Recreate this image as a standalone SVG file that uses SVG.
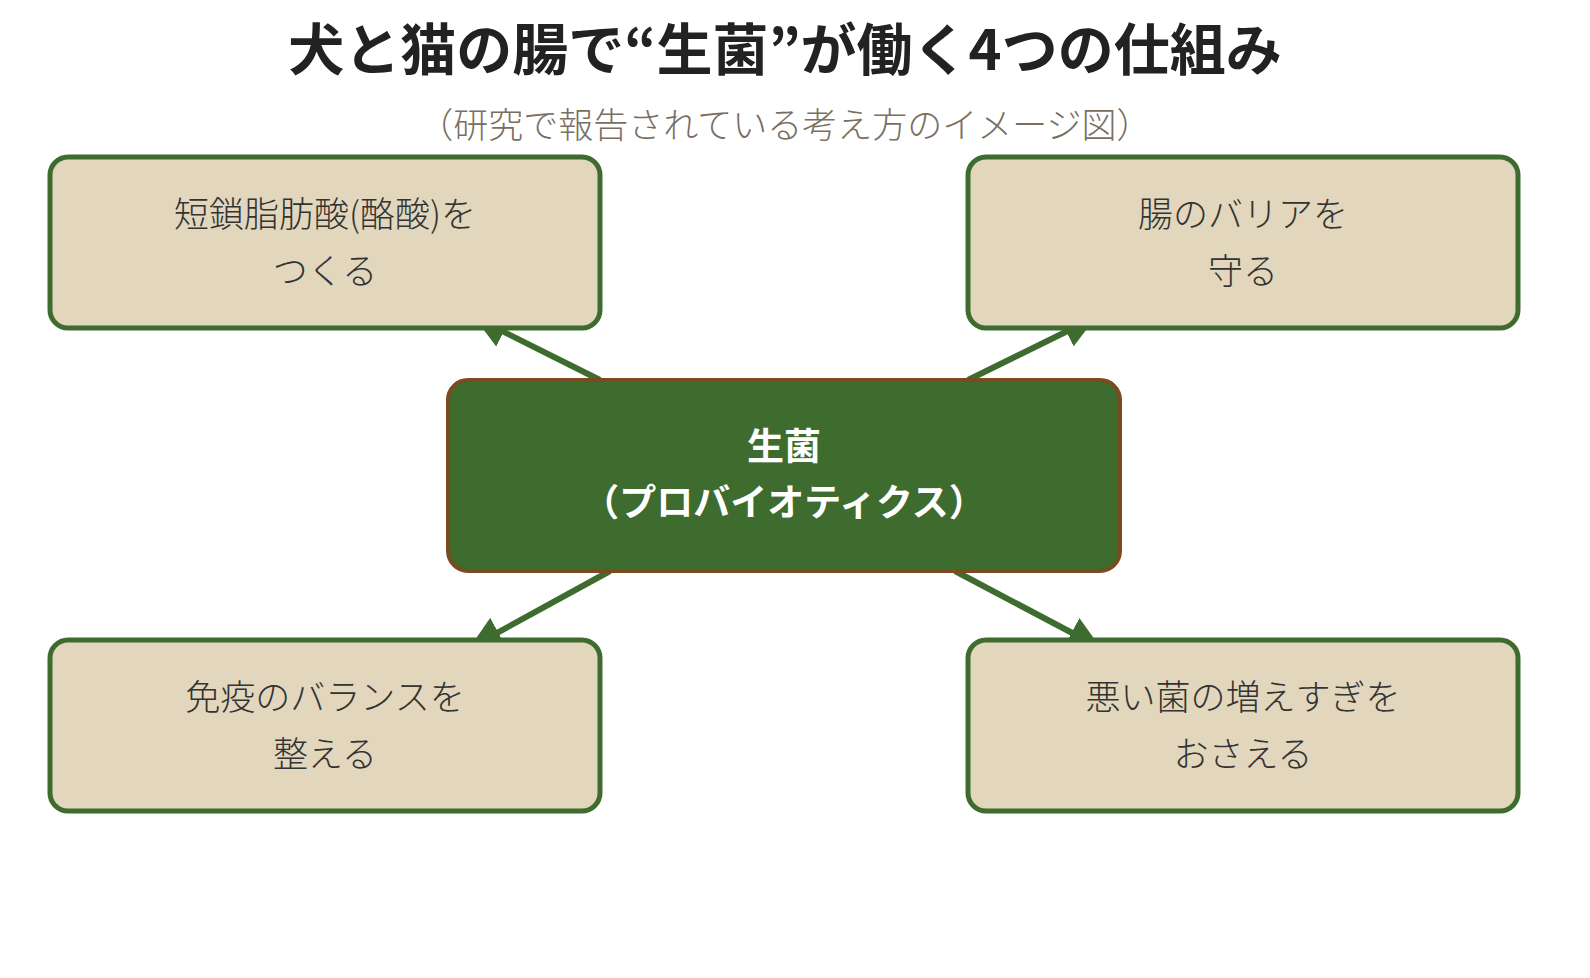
<svg xmlns="http://www.w3.org/2000/svg" width="1590" height="978" viewBox="0 0 1590 978">
<style>
text{font-family:"Noto Sans CJK JP","Noto Sans",sans-serif;text-anchor:middle}
.box{fill:#e2d7bd;stroke:#3e6b2e;stroke-width:5}
.lbl{font-size:35px;fill:#333;font-weight:300}
.c{stroke:#3e6b2e;stroke-width:6;fill:none;marker-end:url(#ah)}
</style>
<defs><marker id="ah" viewBox="0 0 10 10" refX="8" refY="5" markerWidth="5.5" markerHeight="5.5" orient="auto" markerUnits="strokeWidth"><path d="M0,0L10,5L0,10z" fill="#3e6b2e"/></marker></defs>
<rect width="1590" height="978" fill="#fff"/>
<text x="785" y="70" font-size="56" font-weight="bold" fill="#222">犬と猫の腸で“生菌”が働く4つの仕組み</text>
<text x="785" y="138" font-size="35" font-weight="300" fill="#7a6e62">（研究で報告されている考え方のイメージ図）</text>
<g id="connectors">
<line class="c" x1="600" y1="380" x2="480" y2="320"/>
<line class="c" x1="968" y1="380" x2="1090" y2="320"/>
<line class="c" x1="610" y1="571" x2="475" y2="645"/>
<line class="c" x1="955" y1="571" x2="1095" y2="645"/>
</g>
<g id="center"><rect x="448" y="380" width="672" height="191" rx="20" fill="#3e6b2e" stroke="#7a4a20" stroke-width="4"/>
<text x="784" y="460" font-size="37" font-weight="bold" fill="#fff">生菌</text>
<text x="784" y="516" font-size="37" font-weight="bold" fill="#fff">（プロバイオティクス）</text></g>
<g id="tl"><rect class="box" x="50" y="157" width="550" height="171" rx="18"/>
<text class="lbl" x="325" y="227">短鎖脂肪酸(酪酸)を</text><text class="lbl" x="325" y="284">つくる</text></g>
<g id="tr"><rect class="box" x="968" y="157" width="550" height="171" rx="18"/>
<text class="lbl" x="1243" y="227">腸のバリアを</text><text class="lbl" x="1243" y="284">守る</text></g>
<g id="bl"><rect class="box" x="50" y="640" width="550" height="171" rx="18"/>
<text class="lbl" x="325" y="710">免疫のバランスを</text><text class="lbl" x="325" y="767">整える</text></g>
<g id="br"><rect class="box" x="968" y="640" width="550" height="171" rx="18"/>
<text class="lbl" x="1243" y="710">悪い菌の増えすぎを</text><text class="lbl" x="1243" y="767">おさえる</text></g>
</svg>
